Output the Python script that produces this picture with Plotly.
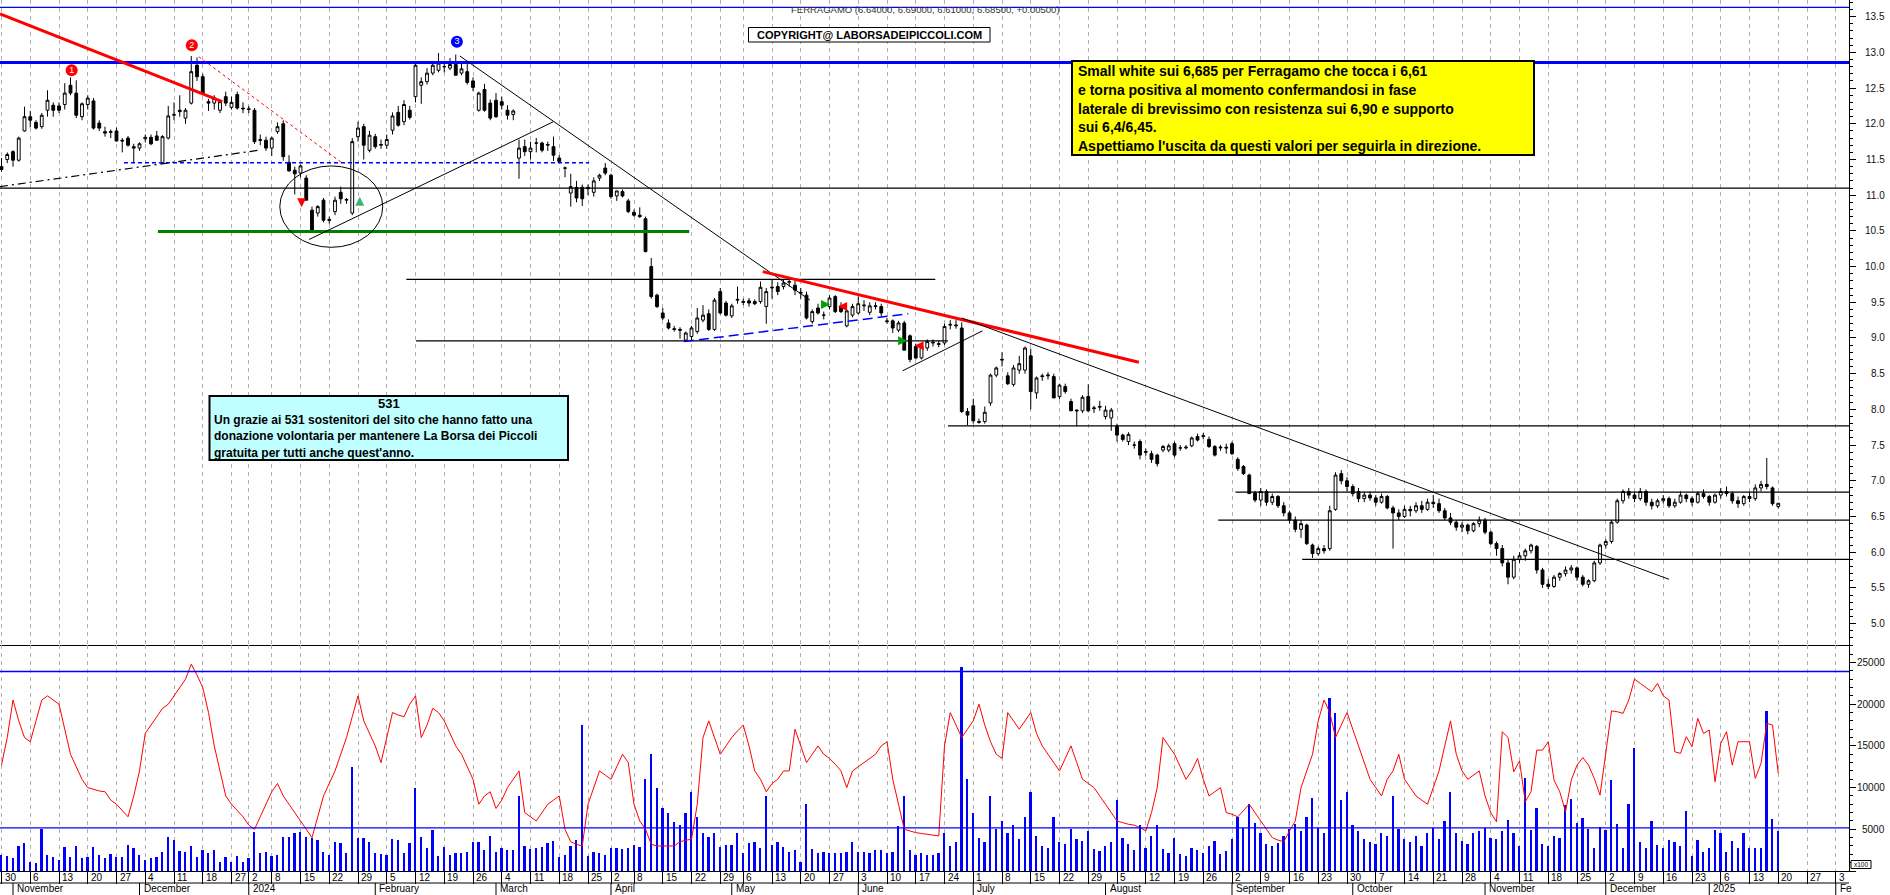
import numpy as np
import pandas as pd
import plotly.graph_objects as go
from plotly.subplots import make_subplots

# ---------------- calendar (Borsa Italiana trading days) ----------------
holidays = ["2023-12-25", "2023-12-26", "2024-01-01", "2024-03-29", "2024-04-01",
            "2024-05-01", "2024-12-24", "2024-12-25", "2024-12-26", "2024-12-31",
            "2025-01-01"]
calendar = [d for d in pd.bdate_range("2023-10-30", "2025-02-07")
            if d.strftime("%Y-%m-%d") not in holidays]

# ---------------- price data ----------------
opens = [
 11.40, 11.50, 11.61, 11.49, 11.90, 12.10, 12.02, 11.96, 12.19, 12.26,
 12.25, 12.27, 12.54, 12.43, 12.10, 12.27, 12.32, 12.01, 11.89, 11.88,
 11.90, 11.77, 11.80, 11.68, 11.66, 11.79, 11.81, 11.83, 11.45, 11.80,
 12.12, 12.19, 12.08, 12.29, 12.82, 12.66, 12.31, 12.29, 12.19, 12.38,
 12.23, 12.41, 12.22, 12.21, 12.19, 11.78, 11.77, 11.66, 11.89, 12.00,
 11.46, 11.35, 11.31, 11.24, 10.79, 10.75, 10.93, 10.66, 10.77, 11.04,
 10.93, 10.75, 11.82, 11.96, 11.63, 11.82, 11.70, 11.70, 11.91, 12.16,
 12.03, 12.19, 12.38, 12.54, 12.59, 12.71, 12.75, 12.80, 12.78, 12.83,
 12.71, 12.73, 12.60, 12.19, 12.48, 12.29, 12.33, 12.31, 12.19, 12.13,
 11.52, 11.68, 11.61, 11.73, 11.73, 11.70, 11.68, 11.52, 11.38, 11.03,
 11.11, 11.11, 11.09, 11.04, 11.24, 11.38, 11.28, 10.99, 11.05, 10.92,
 10.76, 10.72, 10.67, 10.00, 9.60, 9.35, 9.21, 9.13, 9.12, 8.97,
 9.02, 9.09, 9.25, 9.34, 9.12, 9.65, 9.49, 9.31, 9.53, 9.51,
 9.52, 9.51, 9.51, 9.44, 9.70, 9.72, 9.72, 9.78, 9.74, 9.64,
 9.60, 9.23, 9.42, 9.32, 9.44, 9.58, 9.45, 9.17, 9.32, 9.35,
 9.45, 9.36, 9.44, 9.44, 9.24, 9.24, 9.11, 9.21, 9.03, 8.88,
 8.72, 8.86, 8.93, 8.91, 8.93, 9.18, 9.17, 9.14, 7.97, 8.05,
 7.83, 7.83, 8.09, 8.48, 8.69, 8.47, 8.35, 8.55, 8.55, 8.75,
 8.23, 8.47, 8.47, 8.46, 8.18, 8.32, 8.11, 7.99, 7.98, 8.18,
 8.01, 8.03, 7.90, 7.88, 7.76, 7.64, 7.55, 7.50, 7.55, 7.41,
 7.38, 7.36, 7.43, 7.43, 7.52, 7.46, 7.46, 7.49, 7.62, 7.62,
 7.58, 7.48, 7.46, 7.47, 7.52, 7.30, 7.20, 7.08, 6.83, 6.73,
 6.85, 6.70, 6.78, 6.65, 6.55, 6.45, 6.32, 6.38, 6.10, 5.98,
 6.05, 6.05, 6.60, 7.10, 7.00, 6.92, 6.85, 6.75, 6.80, 6.76,
 6.70, 6.78, 6.62, 6.55, 6.50, 6.60, 6.58, 6.65, 6.60, 6.70,
 6.68, 6.58, 6.48, 6.42, 6.35, 6.38, 6.30, 6.40, 6.45, 6.28,
 6.12, 6.05, 5.85, 5.65, 5.90, 5.95, 6.02, 6.08, 5.75, 5.55,
 5.52, 5.65, 5.70, 5.75, 5.78, 5.65, 5.55, 5.60, 5.85, 6.10,
 6.15, 6.42, 6.72, 6.85, 6.80, 6.75, 6.85, 6.70, 6.65, 6.72,
 6.75, 6.65, 6.70, 6.80, 6.75, 6.70, 6.82, 6.78, 6.70, 6.80,
 6.85, 6.82, 6.72, 6.68, 6.78, 6.75, 6.90, 6.95, 6.90, 6.64]
highs = [
 11.52, 11.60, 11.63, 11.82, 12.24, 12.18, 12.05, 12.15, 12.47, 12.30,
 12.30, 12.57, 12.65, 12.61, 12.30, 12.40, 12.36, 12.05, 11.96, 11.92,
 11.95, 11.80, 11.83, 11.72, 11.74, 11.85, 11.85, 11.90, 11.84, 12.25,
 12.30, 12.40, 12.22, 12.95, 12.93, 12.70, 12.35, 12.40, 12.33, 12.45,
 12.38, 12.45, 12.30, 12.25, 12.22, 11.85, 11.82, 11.82, 12.02, 12.05,
 11.56, 11.40, 11.43, 11.28, 10.84, 10.86, 10.96, 10.70, 10.98, 11.12,
 10.96, 11.80, 12.03, 12.00, 11.90, 11.86, 11.78, 11.85, 12.16, 12.25,
 12.33, 12.25, 12.85, 12.65, 12.78, 12.86, 12.99, 12.88, 12.92, 12.97,
 12.85, 12.85, 12.65, 12.45, 12.56, 12.34, 12.43, 12.38, 12.26, 12.20,
 11.78, 11.78, 11.75, 11.80, 11.75, 11.75, 11.82, 11.56, 11.40, 11.30,
 11.20, 11.15, 11.15, 11.25, 11.30, 11.45, 11.30, 11.06, 11.08, 10.95,
 10.80, 10.83, 10.70, 10.12, 9.62, 9.42, 9.26, 9.17, 9.15, 9.09,
 9.17, 9.42, 9.46, 9.40, 9.56, 9.70, 9.52, 9.48, 9.72, 9.55,
 9.56, 9.54, 9.79, 9.70, 9.82, 9.78, 9.82, 9.83, 9.80, 9.70,
 9.65, 9.40, 9.48, 9.37, 9.60, 9.60, 9.50, 9.40, 9.48, 9.58,
 9.53, 9.50, 9.50, 9.48, 9.28, 9.26, 9.24, 9.24, 9.05, 8.92,
 8.92, 8.98, 8.98, 8.96, 9.20, 9.25, 9.25, 9.22, 8.02, 8.15,
 7.87, 8.04, 8.50, 8.60, 8.80, 8.52, 8.62, 8.75, 8.88, 8.85,
 8.46, 8.50, 8.52, 8.50, 8.36, 8.36, 8.15, 8.00, 8.20, 8.35,
 8.05, 8.12, 8.05, 8.02, 7.80, 7.66, 7.68, 7.55, 7.58, 7.45,
 7.42, 7.38, 7.50, 7.52, 7.55, 7.50, 7.50, 7.62, 7.66, 7.67,
 7.62, 7.50, 7.50, 7.52, 7.55, 7.33, 7.22, 7.10, 6.86, 6.90,
 6.88, 6.82, 6.80, 6.70, 6.58, 6.50, 6.45, 6.40, 6.12, 6.08,
 6.10, 6.65, 7.12, 7.15, 7.05, 6.95, 6.90, 6.85, 6.85, 6.80,
 6.82, 6.80, 6.65, 6.60, 6.65, 6.65, 6.70, 6.72, 6.75, 6.80,
 6.75, 6.62, 6.55, 6.45, 6.42, 6.40, 6.42, 6.50, 6.48, 6.30,
 6.15, 6.10, 5.90, 5.95, 6.00, 6.05, 6.12, 6.10, 5.78, 5.62,
 5.68, 5.72, 5.80, 5.82, 5.80, 5.68, 5.62, 5.88, 6.12, 6.18,
 6.45, 6.75, 6.88, 6.90, 6.85, 6.90, 6.88, 6.75, 6.75, 6.80,
 6.78, 6.75, 6.85, 6.82, 6.78, 6.85, 6.88, 6.80, 6.82, 6.90,
 6.92, 6.85, 6.78, 6.80, 6.85, 6.95, 7.00, 7.32, 6.92, 6.69]
lows = [
 11.33, 11.45, 11.40, 11.47, 11.89, 11.95, 11.92, 11.93, 12.10, 12.10,
 12.15, 12.20, 12.40, 12.08, 12.05, 12.20, 11.92, 11.90, 11.82, 11.80,
 11.75, 11.60, 11.68, 11.45, 11.62, 11.74, 11.70, 11.76, 11.44, 11.78,
 12.05, 12.10, 12.00, 12.27, 12.60, 12.43, 12.18, 12.20, 12.15, 12.25,
 12.20, 12.20, 12.15, 12.15, 11.72, 11.70, 11.62, 11.55, 11.86, 11.48,
 11.33, 11.01, 11.25, 10.93, 10.48, 10.70, 10.62, 10.60, 10.72, 10.88,
 10.88, 10.72, 11.75, 11.50, 11.60, 11.65, 11.65, 11.65, 11.85, 11.96,
 11.98, 12.06, 12.30, 12.28, 12.55, 12.68, 12.72, 12.72, 12.75, 12.68,
 12.68, 12.55, 12.46, 12.17, 12.17, 12.05, 12.08, 12.20, 12.06, 12.05,
 11.23, 11.55, 11.50, 11.60, 11.60, 11.62, 11.48, 11.45, 11.25, 10.84,
 10.90, 10.85, 11.00, 10.98, 11.20, 11.28, 10.95, 10.92, 10.97, 10.75,
 10.70, 10.68, 10.20, 9.55, 9.42, 9.25, 9.12, 9.09, 8.99, 8.95,
 8.96, 9.06, 9.22, 9.10, 9.10, 9.33, 9.30, 9.28, 9.48, 9.46,
 9.44, 9.46, 9.48, 9.20, 9.55, 9.60, 9.68, 9.72, 9.60, 9.55,
 9.26, 9.20, 9.33, 9.26, 9.40, 9.35, 9.35, 9.15, 9.29, 9.33,
 9.38, 9.32, 9.40, 9.30, 9.20, 9.07, 9.08, 8.83, 8.66, 8.70,
 8.70, 8.82, 8.88, 8.87, 8.90, 9.12, 9.13, 7.95, 7.78, 7.80,
 7.80, 7.80, 8.05, 8.45, 8.60, 8.34, 8.32, 8.50, 8.50, 8.00,
 8.15, 8.40, 8.42, 8.16, 8.14, 8.22, 7.98, 7.76, 7.95, 7.96,
 7.95, 7.98, 7.86, 7.70, 7.55, 7.55, 7.50, 7.45, 7.30, 7.35,
 7.25, 7.20, 7.40, 7.40, 7.33, 7.42, 7.44, 7.47, 7.55, 7.58,
 7.46, 7.34, 7.42, 7.38, 7.36, 7.14, 7.08, 6.82, 6.70, 6.65,
 6.65, 6.66, 6.62, 6.50, 6.40, 6.28, 6.20, 6.10, 5.92, 5.95,
 5.98, 6.02, 6.58, 6.95, 6.85, 6.78, 6.70, 6.70, 6.72, 6.65,
 6.68, 6.60, 6.05, 6.45, 6.48, 6.50, 6.55, 6.55, 6.58, 6.62,
 6.55, 6.45, 6.38, 6.30, 6.28, 6.25, 6.28, 6.35, 6.25, 6.10,
 5.95, 5.80, 5.55, 5.62, 5.85, 5.88, 5.98, 5.70, 5.50, 5.48,
 5.50, 5.60, 5.66, 5.70, 5.60, 5.52, 5.50, 5.58, 5.82, 6.05,
 6.12, 6.40, 6.68, 6.75, 6.70, 6.72, 6.65, 6.60, 6.62, 6.68,
 6.62, 6.62, 6.68, 6.70, 6.65, 6.68, 6.75, 6.65, 6.68, 6.75,
 6.78, 6.68, 6.62, 6.65, 6.70, 6.72, 6.85, 6.88, 6.65, 6.61]
closes = [
 11.36, 11.57, 11.49, 11.80, 12.10, 12.05, 11.94, 12.12, 12.33, 12.19,
 12.19, 12.43, 12.43, 12.12, 12.28, 12.36, 11.94, 11.94, 11.87, 11.89,
 11.76, 11.76, 11.70, 11.66, 11.72, 11.81, 11.72, 11.77, 11.82, 12.11,
 12.13, 12.17, 12.19, 12.73, 12.66, 12.43, 12.29, 12.36, 12.31, 12.29,
 12.30, 12.22, 12.21, 12.20, 11.75, 11.77, 11.66, 11.80, 11.96, 11.54,
 11.34, 11.30, 11.41, 10.93, 10.51, 10.84, 10.65, 10.65, 10.93, 10.95,
 10.94, 11.75, 11.94, 11.70, 11.84, 11.68, 11.71, 11.78, 12.11, 11.98,
 12.27, 12.09, 12.82, 12.59, 12.71, 12.82, 12.85, 12.80, 12.83, 12.68,
 12.77, 12.58, 12.51, 12.43, 12.19, 12.08, 12.10, 12.26, 12.12, 12.18,
 11.66, 11.61, 11.66, 11.73, 11.63, 11.71, 11.56, 11.47, 11.38, 11.12,
 10.96, 10.95, 11.11, 11.20, 11.28, 11.31, 10.98, 11.06, 10.99, 10.77,
 10.72, 10.70, 10.21, 9.58, 9.44, 9.28, 9.14, 9.12, 9.11, 9.07,
 9.14, 9.28, 9.32, 9.12, 9.53, 9.35, 9.32, 9.45, 9.54, 9.50,
 9.49, 9.48, 9.71, 9.65, 9.71, 9.65, 9.77, 9.79, 9.67, 9.63,
 9.28, 9.37, 9.35, 9.32, 9.56, 9.37, 9.37, 9.38, 9.44, 9.48,
 9.46, 9.45, 9.45, 9.35, 9.23, 9.14, 9.21, 8.83, 8.70, 8.72,
 8.88, 8.95, 8.94, 8.92, 9.16, 9.19, 9.18, 7.97, 7.92, 7.84,
 7.82, 7.96, 8.48, 8.58, 8.70, 8.36, 8.58, 8.64, 8.86, 8.25,
 8.44, 8.46, 8.48, 8.16, 8.34, 8.25, 7.98, 7.98, 8.17, 7.98,
 8.02, 8.04, 7.99, 7.99, 7.64, 7.58, 7.65, 7.50, 7.36, 7.40,
 7.30, 7.24, 7.48, 7.49, 7.36, 7.46, 7.47, 7.60, 7.57, 7.63,
 7.48, 7.36, 7.47, 7.46, 7.38, 7.17, 7.10, 6.82, 6.73, 6.85,
 6.70, 6.78, 6.65, 6.55, 6.45, 6.32, 6.40, 6.12, 5.98, 6.05,
 6.02, 6.58, 7.08, 7.00, 6.92, 6.82, 6.75, 6.80, 6.76, 6.70,
 6.78, 6.62, 6.55, 6.50, 6.60, 6.58, 6.65, 6.60, 6.70, 6.68,
 6.58, 6.48, 6.42, 6.35, 6.38, 6.30, 6.40, 6.45, 6.28, 6.12,
 6.05, 5.85, 5.65, 5.90, 5.95, 6.02, 6.10, 5.75, 5.55, 5.52,
 5.65, 5.70, 5.75, 5.78, 5.65, 5.55, 5.60, 5.85, 6.10, 6.15,
 6.42, 6.72, 6.85, 6.80, 6.75, 6.85, 6.70, 6.65, 6.72, 6.75,
 6.65, 6.70, 6.80, 6.75, 6.70, 6.82, 6.78, 6.70, 6.80, 6.85,
 6.82, 6.72, 6.68, 6.78, 6.75, 6.90, 6.95, 6.92, 6.68, 6.685]

# ---------------- volume panel (x100) ----------------
volumes = [
 1920, 1800, 1520, 3000, 3320, 1120, 920, 5000, 1920, 1640,
 1320, 2920, 1720, 3000, 1520, 1640, 2840, 1920, 1520, 2040,
 1640, 1640, 3120, 2720, 1920, 1320, 1520, 1720, 2320, 4120,
 3720, 2440, 2320, 3000, 1720, 2520, 2120, 2520, 1120, 1720,
 1120, 1800, 1120, 1520, 4700, 2120, 2320, 1800, 1920, 4120,
 4120, 4500, 4700, 4120, 3900, 3700, 2320, 1920, 3500, 3300,
 2120, 12500, 3900, 3900, 3500, 2120, 2040, 1920, 3800, 3700,
 2120, 3300, 10000, 4120, 2720, 4900, 1800, 2920, 1920, 2120,
 2200, 2320, 3500, 3500, 2520, 4200, 2320, 2720, 2520, 2520,
 9000, 3000, 2600, 2720, 2840, 3400, 3640, 1720, 1920, 3000,
 3700, 17500, 1800, 2320, 2120, 1920, 2720, 2720, 2600, 2720,
 3120, 2920, 11000, 14000, 10000, 7500, 7000, 5900, 5500, 7000,
 9500, 6500, 4500, 4120, 4500, 2920, 3120, 3120, 4500, 2120,
 3320, 3520, 2720, 9000, 3120, 3520, 2920, 2320, 2520, 1120,
 8000, 2600, 2120, 2320, 2200, 2120, 2120, 2320, 3520, 2320,
 2320, 2120, 2520, 2520, 2120, 2320, 5400, 9000, 2520, 1920,
 2120, 1920, 1920, 2120, 4500, 3000, 3500, 24500, 11000, 7000,
 4000, 3500, 9000, 5000, 6000, 4500, 5500, 3800, 6500, 9500,
 4200, 3000, 2800, 6500, 3500, 3200, 5000, 3800, 3600, 4800,
 2600, 2400, 3000, 3500, 8500, 4000, 3200, 2500, 5500, 2800,
 4200, 5500, 2600, 2200, 4000, 2000, 1800, 2800, 2500, 2200,
 3000, 3600, 2000, 2400, 3800, 6500, 5200, 8000, 5800, 4500,
 3200, 3000, 3300, 4200, 5000, 5600, 4800, 6500, 8800, 5200,
 4500, 20800, 19000, 8500, 9500, 5500, 4800, 3800, 3500, 3200,
 4500, 4200, 9000, 5000, 3800, 3500, 4200, 3000, 4500, 5200,
 3800, 6000, 9500, 4500, 3600, 3200, 4500, 4800, 5200, 4000,
 3800, 4830, 6150, 4500, 3000, 11100, 4900, 7500, 3200, 3000,
 4200, 3900, 7900, 8600, 5700, 6300, 5000, 2800, 5300, 4900,
 10900, 5600, 2800, 8000, 14800, 3500, 2800, 6000, 3100, 2800,
 3700, 3500, 3000, 7200, 1800, 3700, 2300, 2700, 4900, 4600,
 2300, 3600, 2800, 4600, 2800, 2800, 2700, 19200, 6200, 4800]

volume_line = [
 12700, 16000, 20500, 18000, 16000, 15500, 18000, 20500, 21000, 20500,
 20000, 17000, 14000, 12500, 11000, 10000, 9800, 9600, 9500, 8500,
 8000, 7200, 6500, 9000, 12000, 16500, 17500, 18500, 19500, 20000,
 21000, 22000, 23000, 24800, 23500, 22000, 19000, 15000, 12000, 9000,
 8000, 7200, 6500, 5500, 5000, 6500, 8000, 9500, 10500, 9000,
 8000, 7000, 6000, 5000, 4000, 6500, 9000, 10500, 12000, 14000,
 16000, 18500, 21000, 18000, 16500, 15000, 13000, 16000, 19000, 18700,
 18500, 20000, 21000, 16000, 17500, 19500, 19000, 18000, 16500, 15000,
 14000, 12500, 11000, 8000, 9000, 9500, 7500, 8500, 10000, 11000,
 12000, 7000, 6500, 6000, 7000, 8000, 8500, 9000, 5000, 3500,
 3200, 3000, 8000, 10000, 12000, 11500, 11000, 12500, 14000, 13000,
 8000, 6000, 5000, 3200, 3000, 3000, 3000, 3000, 3500, 3700,
 3800, 8000, 16000, 18000, 16000, 14000, 15000, 16000, 16800, 17500,
 15000, 12000, 11000, 9500, 10500, 11000, 12000, 12000, 17000, 15000,
 13000, 14000, 15000, 14000, 13500, 12800, 12000, 10000, 12000, 12500,
 13000, 13500, 14000, 15000, 15500, 11000, 8000, 5000, 4800, 4600,
 4500, 4400, 4300, 4200, 15000, 19000, 17500, 16000, 17000, 18000,
 20000, 17500, 15500, 14000, 13500, 19000, 18000, 17000, 18000, 19000,
 16500, 15000, 14000, 13000, 12000, 13500, 15000, 13000, 11000, 10500,
 10000, 9000, 8000, 7000, 6000, 5800, 5600, 5500, 5200, 4800,
 7000, 10000, 16000, 15000, 14000, 12500, 11000, 12000, 13500, 11000,
 9000, 9500, 10000, 7000, 6800, 6500, 7200, 8000, 7000, 6000,
 5000, 4000, 3700, 3500, 4800, 6000, 10000, 12000, 14000, 18000,
 20500, 19000, 16000, 17500, 19000, 17000, 15000, 13000, 11000, 10000,
 9000, 11000, 12000, 14000, 11000, 10000, 9000, 8500, 8000, 10000,
 12000, 15000, 18000, 14000, 12000, 11000, 11500, 12000, 9000, 7000,
 5900, 16700, 16000, 11900, 13200, 8300, 9500, 14500, 14500, 15500,
 10900, 9500, 7100, 10900, 12700, 13600, 12700, 11100, 9100, 14500,
 19200, 19100, 18900, 20500, 23000, 22500, 22000, 21500, 22500, 21000,
 20500, 14300, 14100, 16100, 14900, 18300, 16500, 16900, 10700, 15300,
 16700, 12700, 15500, 15500, 15500, 11100, 12900, 17700, 17500, 11700]

price_ticks = [5.0, 5.5, 6.0, 6.5, 7.0, 7.5, 8.0, 8.5, 9.0, 9.5, 10.0, 10.5,
               11.0, 11.5, 12.0, 12.5, 13.0, 13.5]
volume_ticks = [5000, 10000, 15000, 20000, 25000]

n = len(closes)
x = np.arange(n)
highs = [max(h, o, c) for h, o, c in zip(highs, opens, closes)]
lows = [min(l, o, c) for l, o, c in zip(lows, opens, closes)]

# ---------------- geometry ----------------
W, H = 1890, 895
PL, PR, PT, PB = 0, 41, 0, 24
PW, PH = W - PL - PR, H - PT - PB          # plot area 1849 x 871
SPLIT = 226 / PH                           # volume panel fraction
XMIN, XMAX = -0.26, 321.3

def px(xp):
    return xp / PW

def py(yp):
    return 1 - yp / PH

fig = make_subplots(rows=2, cols=1, shared_xaxes=True, vertical_spacing=0)

fig.add_trace(go.Candlestick(
    x=x, open=opens, high=highs, low=lows, close=closes,
    increasing=dict(line=dict(color="black", width=1), fillcolor="white"),
    decreasing=dict(line=dict(color="black", width=1), fillcolor="black"),
    whiskerwidth=0, hoverinfo="skip"), row=1, col=1)

fig.add_trace(go.Bar(x=x, y=volumes, width=0.3, marker=dict(color="#0000ff", line=dict(width=0)),
                     hoverinfo="skip"), row=2, col=1)
fig.add_trace(go.Scatter(x=x, y=volume_line, mode="lines", line=dict(color="#ff0000", width=1),
                         hoverinfo="skip"), row=2, col=1)

# numbered peak markers
marker_x = [12.2, 33.1, 79.2]
marker_y = [12.75, 13.10, 13.15]
marker_txt = ["1", "2", "3"]
marker_col = ["#ff0000", "#ff0000", "#0000ff"]
fig.add_trace(go.Scatter(x=marker_x, y=marker_y, mode="markers+text", text=marker_txt,
                         textposition="middle center",
                         textfont=dict(color="white", size=9, family="Arial Black, Arial"),
                         marker=dict(size=12, color=marker_col, line=dict(width=0)),
                         hoverinfo="skip"), row=1, col=1)

# ---------------- calendar ticks ----------------
def is_week_start(i):
    if i == 0:
        return True
    iso = calendar[i].isocalendar()
    prev = calendar[i - 1].isocalendar()
    return iso[1] != prev[1] and iso[0] == calendar[i].year

week_idx = [i for i in range(len(calendar)) if is_week_start(i) and i <= XMAX]
month_idx = [i for i in range(1, len(calendar))
             if calendar[i].month != calendar[i - 1].month and i <= XMAX]

grid = dict(showgrid=True, gridcolor="#b0b0b0", gridwidth=1, griddash="4px,4px",
            tickmode="array", tickvals=week_idx, range=[XMIN, XMAX], zeroline=False,
            showticklabels=False)
fig.update_layout(
    xaxis=dict(**grid, ticks="", showline=True, linecolor="black", linewidth=1,
               rangeslider=dict(visible=False)),
    xaxis2=dict(**grid, ticks="outside", ticklen=12, tickcolor="black", tickwidth=1,
                showline=True, linecolor="black", linewidth=1),
    yaxis=dict(domain=[SPLIT, 1], range=[4.70, 13.734], side="right", showgrid=False,
               zeroline=False, showline=True, linecolor="black", linewidth=1,
               tickmode="linear", tick0=0, dtick=0.5, ticks="outside", ticklen=6,
               tickcolor="black", showticklabels=False,
               minor=dict(dtick=0.1, ticks="outside", ticklen=3, tickcolor="black")),
    yaxis2=dict(domain=[0, SPLIT], range=[0, 27100], side="right", showgrid=False,
                zeroline=False, showline=True, linecolor="black", linewidth=1,
                tickmode="linear", tick0=0, dtick=5000, ticks="outside", ticklen=6,
                tickcolor="black", showticklabels=False,
                minor=dict(dtick=1000, ticks="outside", ticklen=3, tickcolor="black")),
    width=W, height=H, margin=dict(l=PL, r=PR, t=PT, b=PB, pad=0),
    plot_bgcolor="white", paper_bgcolor="white", showlegend=False,
    bargap=0, font=dict(family="Arial", color="black"))

shapes = []

def seg(x0, y0, x1, y1, color, width, dash="solid", xref="x", yref="y"):
    shapes.append(dict(type="line", xref=xref, yref=yref, x0=x0, y0=y0, x1=x1, y1=y1,
                       line=dict(color=color, width=width, dash=dash)))

# full-width horizontal levels
seg(0, 13.63, 1, 13.63, "#0000ff", 1.3, xref="paper")
seg(0, 12.86, 1, 12.86, "#0000ff", 3, xref="paper")
seg(0, 11.10, 1, 11.10, "black", 1.3, xref="paper")
seg(0, 23920, 1, 23920, "#0000ff", 1.3, xref="paper", yref="y2")
seg(0, 5180, 1, 5180, "#0000ff", 1.3, xref="paper", yref="y2")
# partial horizontal levels
seg(21.3, 11.455, 102.2, 11.455, "#0000ff", 1.5, dash="4px,3px")
seg(27.2, 10.49, 119.6, 10.49, "#008000", 3)
seg(70.4, 9.82, 162.4, 9.82, "black", 1.3)
seg(72.1, 8.96, 164.6, 8.96, "black", 1.3)
seg(164.6, 7.77, 330, 7.77, "black", 1.3)
seg(214.6, 6.84, 330, 6.84, "black", 1.3)
seg(211.6, 6.45, 330, 6.45, "black", 1.3)
seg(226.2, 5.90, 330, 5.90, "black", 1.3)
# trend lines
seg(-0.26, 13.54, 38.4, 12.31, "#ff0000", 3)
seg(34.3, 12.94, 59.1, 11.46, "#ff0000", 1, dash="3px,3px")
seg(-0.26, 11.12, 44.8, 11.63, "black", 1.2, dash="8px,4px,2px,4px")
seg(53.5, 10.38, 96.0, 12.03, "black", 1)
seg(79.7, 12.95, 140.6, 9.53, "black", 1)
seg(132.4, 9.93, 197.8, 8.66, "#ff0000", 3)
seg(118.7, 8.95, 157.7, 9.34, "#0000ff", 1.5, dash="10px,5px")
seg(156.7, 8.54, 170.6, 9.10, "black", 1)
seg(167.0, 9.28, 290.0, 5.62, "black", 1)
shapes.append(dict(type="circle", xref="x", yref="y", x0=48.4, x1=66.3, y0=10.27, y1=11.41,
                   line=dict(color="black", width=1)))

# date axis rows
seg(0, py(883), 1, py(883), "black", 1, xref="paper", yref="paper")
for i in month_idx:
    seg(i, py(883), i, py(895), "black", 1, xref="x2", yref="paper")

# text boxes
shapes.append(dict(type="rect", xref="paper", yref="paper", x0=px(1072), x1=px(1534),
                   y0=py(61), y1=py(155), fillcolor="#ffff00", line=dict(color="black", width=2)))
shapes.append(dict(type="rect", xref="paper", yref="paper", x0=px(209.5), x1=px(568),
                   y0=py(396), y1=py(460), fillcolor="#c0ffff", line=dict(color="black", width=2)))
shapes.append(dict(type="rect", xref="paper", yref="paper", x0=px(748.5), x1=px(990),
                   y0=py(27.5), y1=py(42), fillcolor="white", line=dict(color="black", width=1)))
shapes.append(dict(type="rect", xref="paper", yref="paper", x0=px(1851), x1=px(1871),
                   y0=py(860.5), y1=py(868.5), fillcolor="white", line=dict(color="black", width=1)))
fig.update_layout(shapes=shapes)

ann = []

def text(xp, yp, s, size, bold=False, anchor="left", color="black", family="Arial"):
    ann.append(dict(xref="paper", yref="paper", x=px(xp), y=py(yp), text=("<b>%s</b>" % s) if bold else s,
                    showarrow=False, xanchor=anchor, yanchor="middle",
                    font=dict(size=size, color=color, family=family)))

text(925, 9.5, "FERRAGAMO (6.64000, 6.69000, 6.61000, 6.68500, +0.00500)", 9.5, anchor="center", color="#333333")
text(869, 35, "COPYRIGHT@ LABORSADEIPICCOLI.COM", 11, bold=True, anchor="center")

yellow_lines = ["Small white sui 6,685 per Ferragamo che tocca i 6,61",
                "e torna positiva al momento confermandosi in fase",
                "laterale di brevissimo con resistenza sui 6,90 e supporto",
                "sui 6,4/6,45.",
                "Aspettiamo l'uscita da questi valori per seguirla in direzione."]
for j, s in enumerate(yellow_lines):
    text(1076, 71 + 18.8 * j, s, 14, bold=True)

text(388.7, 403.5, "531", 13, bold=True, anchor="center")
cyan_lines = ["Un grazie ai 531 sostenitori del sito che hanno fatto una",
              "donazione volontaria per mantenere La Borsa dei Piccoli",
              "gratuita per tutti anche quest'anno."]
for j, s in enumerate(cyan_lines):
    text(212, 419.5 + 16.8 * j, s, 12, bold=True)

# right axis labels
for v in price_ticks:
    ann.append(dict(xref="paper", yref="y", x=px(1887), y=v, text="%.1f" % v, showarrow=False,
                    xanchor="right", yanchor="middle", font=dict(size=10, color="#111111")))
for v in volume_ticks:
    ann.append(dict(xref="paper", yref="y2", x=px(1887), y=v, text="%d" % v, showarrow=False,
                    xanchor="right", yanchor="middle", font=dict(size=10, color="#111111")))
text(1861, 864.5, "x100", 6.5, anchor="center")

# date labels
for i in week_idx:
    ann.append(dict(xref="x2", yref="paper", x=i, y=py(877), text=str(calendar[i].day),
                    showarrow=False, xanchor="left", yanchor="middle", xshift=1,
                    font=dict(size=10, color="black")))
month_names = {1: None, 2: "February", 3: "March", 4: "April", 5: "May", 6: "June",
               7: "July", 8: "August", 9: "September", 10: "October", 11: "November",
               12: "December"}
for i in month_idx:
    d = calendar[i]
    lab = str(d.year) if d.month == 1 else month_names[d.month]
    if i > 315:
        lab = lab[:2]
    ann.append(dict(xref="x2", yref="paper", x=i, y=py(888.5), text=lab,
                    showarrow=False, xanchor="left", yanchor="middle", xshift=2,
                    font=dict(size=10, color="black")))

# small arrows
def arrow(xh, yh, ax, ay, color):
    ann.append(dict(xref="x", yref="y", x=xh, y=yh, ax=ax, ay=ay, axref="pixel", ayref="pixel",
                    text="", showarrow=True, arrowhead=2, arrowsize=0.9, arrowwidth=2,
                    arrowcolor=color))

arrow(52.2, 10.83, 0, -9, "#ff0000")
arrow(62.3, 10.98, 0, 9, "#3cb371")
arrow(144.1, 9.47, -9, 0, "#00a000")
arrow(145.5, 9.44, 9, 0, "#ff0000")
arrow(157.5, 8.96, -9, 0, "#00a000")
arrow(158.8, 8.89, 9, 0, "#ff0000")

fig.update_layout(annotations=ann)
fig.write_html("out.html", config={"displayModeBar": False},
               post_script="document.body.style.margin='0';document.body.style.overflow='hidden';")
